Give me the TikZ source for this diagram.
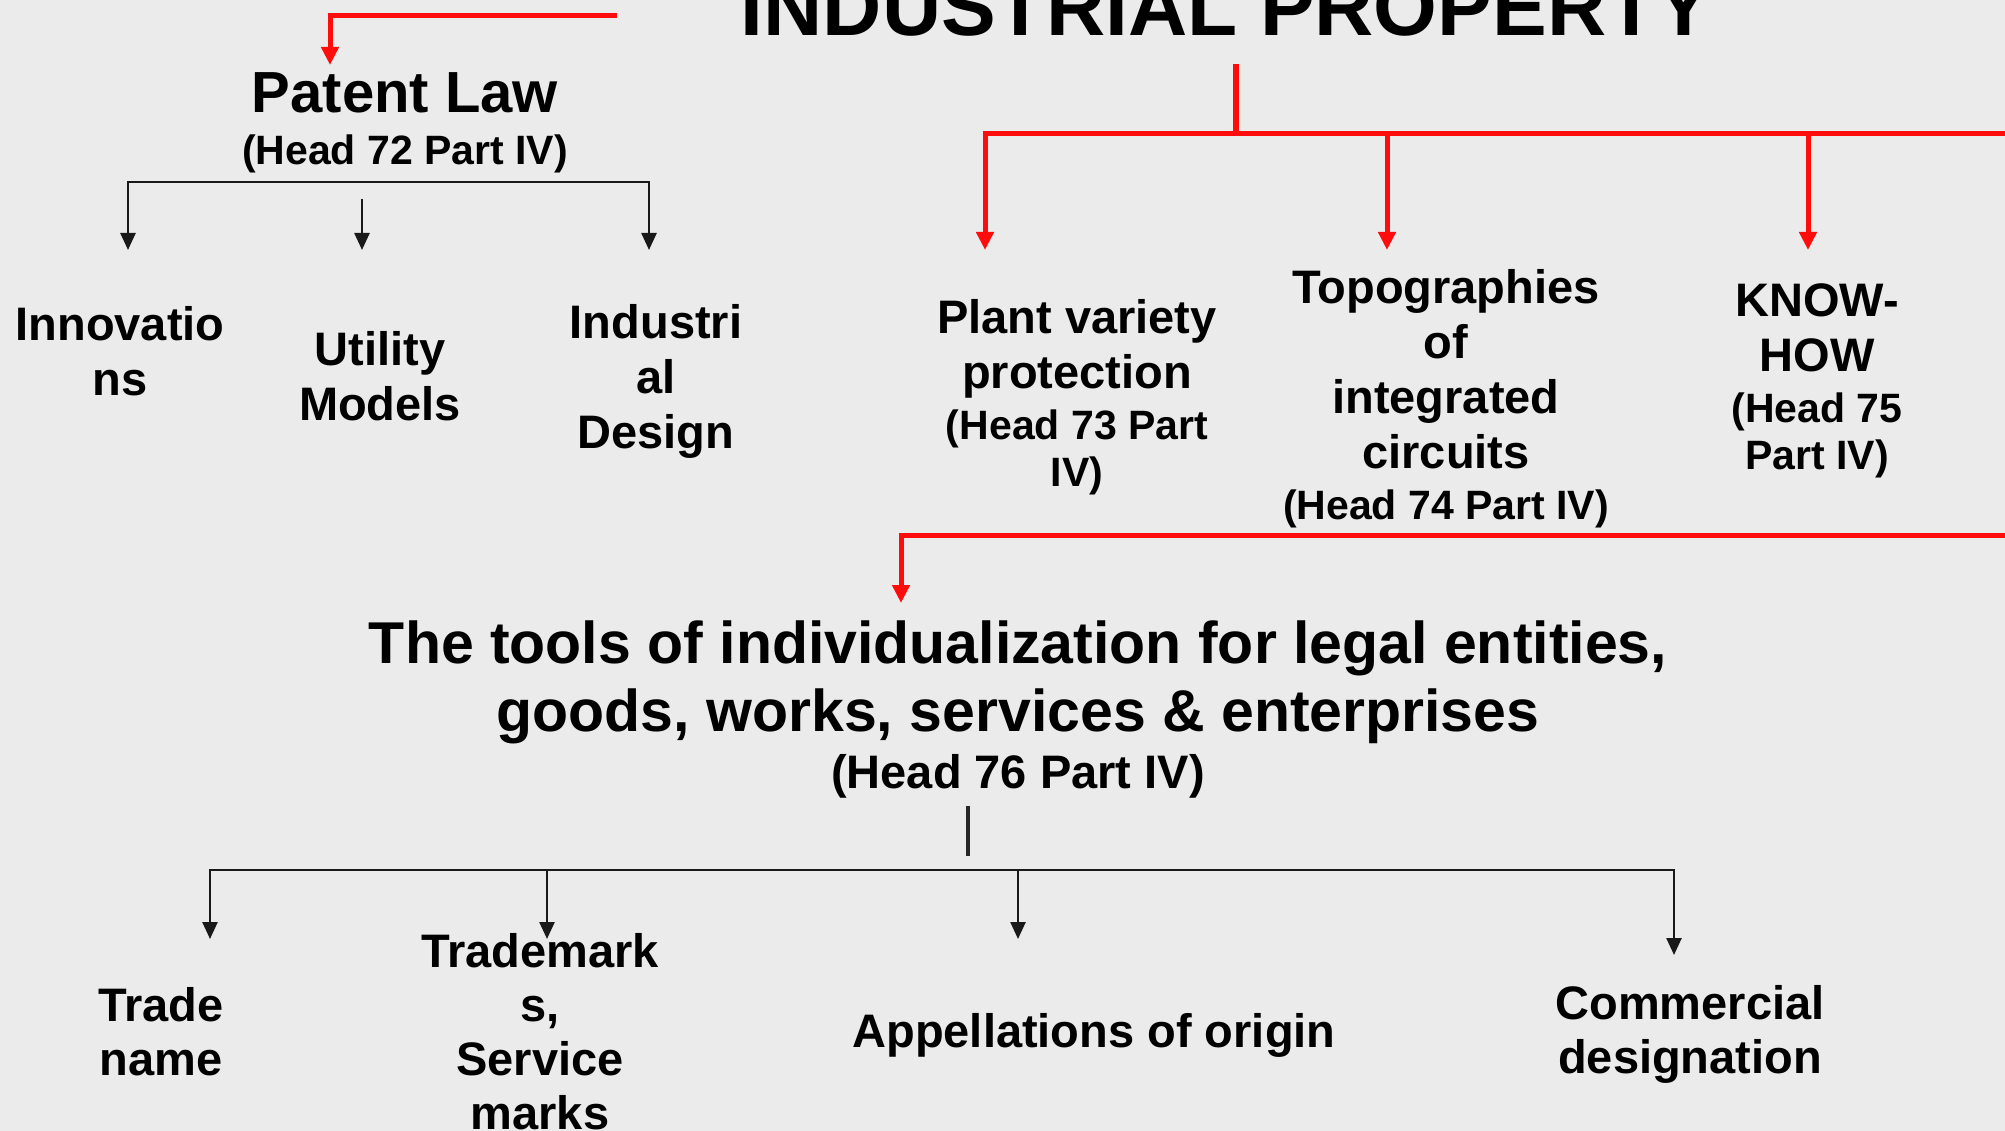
\documentclass[tikz,border=0pt]{standalone}
\usepackage{fontspec}
\setmainfont{Liberation Sans}
\usetikzlibrary{arrows.meta}
\definecolor{bgc}{RGB}{235,235,235}
\definecolor{redl}{RGB}{255,12,12}
\newcommand{\stk}[1]{\begin{tabular}[t]{@{}c@{}}#1\end{tabular}}
\newcommand{\hd}{\fontsize{41}{54}\selectfont}
\begin{document}
\begin{tikzpicture}[x=1pt,y=-1pt,
  lbl/.style={inner sep=0pt, anchor=base, font=\bfseries\fontsize{47}{55}\selectfont},
  blk/.style={line width=2.5pt, black!90},
  blkarr/.style={blk, -{Triangle[length=17pt,width=15pt]}},
  redln/.style={line width=6pt, redl},
  redarr/.style={line width=5pt, redl, -{Triangle[length=18pt,width=17pt]}},
]
\useasboundingbox (0,0) rectangle (2005,1131);
\fill[bgc] (0,0) rectangle (2005,1131);

% texts
\node[lbl, font=\bfseries\fontsize{82}{90}\selectfont] (title) at (1226,36) {INDUSTRIAL PROPERTY};
\node[lbl, font=\bfseries\fontsize{58}{54}\selectfont] (patent) at (405,113) {\stk{Patent Law\\[-2pt]\hd (Head 72 Part IV)}};
\node[lbl] (innov) at (120,341) {\stk{Innovatio\\ns}};
\node[lbl] (utility) at (380,366) {\stk{Utility\\Models}};
\node[lbl] (design) at (656,339) {\stk{Industri\\al\\Design}};
\node[lbl] (plant) at (1077,334) {\stk{Plant variety\\protection\\[-4pt]\hd (Head 73 Part\\[-8pt]\hd IV)}};
\node[lbl] (topo) at (1446,304) {\stk{Topographies\\of\\integrated\\circuits\\[-4pt]\hd (Head 74 Part IV)}};
\node[lbl] (know) at (1817,317) {\stk{KNOW-\\HOW\\[-4pt]\hd (Head 75\\[-8pt]\hd Part IV)}};
\node[lbl, font=\bfseries\fontsize{59}{68}\selectfont] (tools) at (1018,663) {\stk{The tools of individualization for legal entities,\\goods, works, services \& enterprises\\[-11pt]\fontsize{47}{54}\selectfont (Head 76 Part IV)}};
\node[lbl, font=\bfseries\fontsize{47}{54}\selectfont] (trade) at (161,1021) {\stk{Trade\\name}};
\node[lbl, font=\bfseries\fontsize{47}{54}\selectfont] (tmark) at (540,967) {\stk{Trademark\\s,\\Service\\marks}};
\node[lbl] (appel) at (1094,1047) {Appellations of origin};
\node[lbl, font=\bfseries\fontsize{47}{54}\selectfont] (comm) at (1690,1019) {\stk{Commercial\\designation}};

% red connectors
\coordinate (rA) at (617,16);
\coordinate (rAt) at (330,65);
\draw[redarr] (rA) -| (rAt);

\coordinate (tS) at (1236,64);
\coordinate (tJ) at (1236,134);
\coordinate (tR) at (2005,134);
\coordinate (tPV) at (985,250);
\coordinate (tTO) at (1387,250);
\coordinate (tKH) at (1808,250);
\draw[redln] (tS) -- (tJ);
\draw[redarr] (tR) -| (tPV);
\draw[redarr] (tJ -| tTO) -- (tTO);
\draw[redarr] (tJ -| tKH) -- (tKH);

\coordinate (lR) at (2005,535);
\coordinate (lT) at (901,603);
\draw[redarr] (lR) -| (lT);

% black connectors, patent law
\coordinate (pL) at (128,182);
\coordinate (pR) at (649,182);
\draw[blk, line cap=rect] (pL) -- (pR);
\draw[blkarr] (pL) -- (128,250);
\draw[blkarr] (pR) -- (649,250);
\coordinate (pM) at (362,199);
\draw[blkarr] (pM) -- (362,250);

% black connectors, tools
\coordinate (sT) at (968,806);
\coordinate (sB) at (968,856);
\draw[line width=4pt, black!85] (sT) -- (sB);
\coordinate (bL) at (210,870);
\coordinate (bR) at (1674,870);
\draw[blk, line cap=rect] (bL) -- (bR);
\draw[blkarr] (bL) -- (210,939);
\draw[blkarr] (bL -| 547,0) -- (547,939);
\draw[blkarr] (bL -| 1018,0) -- (1018,939);
\draw[blkarr] (bR) -- (1674,955);
\end{tikzpicture}
\end{document}
